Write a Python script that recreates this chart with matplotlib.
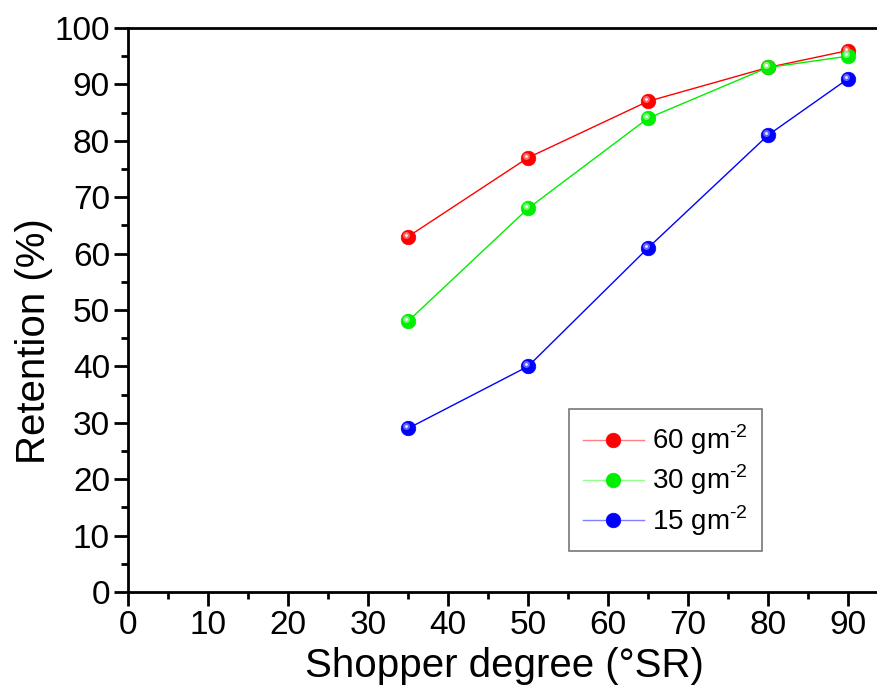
import matplotlib
matplotlib.use("Agg")
import matplotlib.pyplot as plt
import matplotlib.transforms as mtransforms
from matplotlib.ticker import MultipleLocator

# data
shopper = [35, 50, 65, 80, 90]
ret_60 = [63, 77, 87, 93, 96]
ret_30 = [48, 68, 84, 93, 95]
ret_15 = [29, 40, 61, 81, 91]

series = [
    (r"60 gm$^{\text{-2}}$", ret_60, "#ff0000", "#ff8080"),
    (r"30 gm$^{\text{-2}}$", ret_30, "#00ee00", "#90ff90"),
    (r"15 gm$^{\text{-2}}$", ret_15, "#0000ff", "#8080ff"),
]

plt.rcParams["font.family"] = ["Liberation Sans", "DejaVu Sans"]
plt.rcParams["mathtext.fontset"] = "custom"
plt.rcParams["mathtext.rm"] = "Liberation Sans"

fig = plt.figure(figsize=(8.78, 6.92), dpi=100)
ax = fig.add_axes([128 / 878, 100 / 692, 752 / 878, 564 / 692])

# offset for the sphere highlight (up-left)
hl = mtransforms.offset_copy(ax.transData, fig=fig, x=-2, y=2, units="dots")

handles = []
for label, vals, col, light in series:
    h, = ax.plot(shopper, vals, "-", color=col, lw=1.0, marker="o", ms=10.5,
                 mfc=col, mec=col, mew=0.5, label=label, zorder=3)
    ax.plot(shopper, vals, "o", ms=5, mfc=light, mec="none", alpha=0.8,
            zorder=4, transform=hl)
    ax.plot(shopper, vals, "o", ms=2, mfc="white", mec="none", alpha=0.9,
            zorder=5, transform=hl)
    handles.append(h)

ax.set_xlim(0, 94)
ax.set_ylim(0, 100)
ax.xaxis.set_major_locator(MultipleLocator(10))
ax.xaxis.set_minor_locator(MultipleLocator(5))
ax.yaxis.set_major_locator(MultipleLocator(10))
ax.yaxis.set_minor_locator(MultipleLocator(5))
ax.tick_params(which="major", direction="out", length=10, width=2,
               labelsize=24, pad=3)
ax.tick_params(which="minor", direction="out", length=5, width=2)
ax.spines["right"].set_visible(False)
for s in ["left", "bottom", "top"]:
    ax.spines[s].set_linewidth(2)

ax.set_xlabel("Shopper degree (°SR)", fontsize=29, labelpad=4)
ax.set_ylabel("Retention (%)", fontsize=29, labelpad=1)
ax.yaxis.label.set_y(0.445)

leg = ax.legend(handles=handles, loc="upper left",
                bbox_to_anchor=((569 - 128) / 752, (592 - 409) / 564),
                borderaxespad=0, fontsize=20, frameon=True, fancybox=False,
                edgecolor="#555555", handlelength=2.2, handletextpad=0.3,
                borderpad=0.5, labelspacing=0.2)
leg.get_frame().set_linewidth(1.2)
for lh, (_, _, _, light) in zip(leg.get_lines(), series):
    lh.set_color(light)

fig.savefig("out.png", dpi=100)
